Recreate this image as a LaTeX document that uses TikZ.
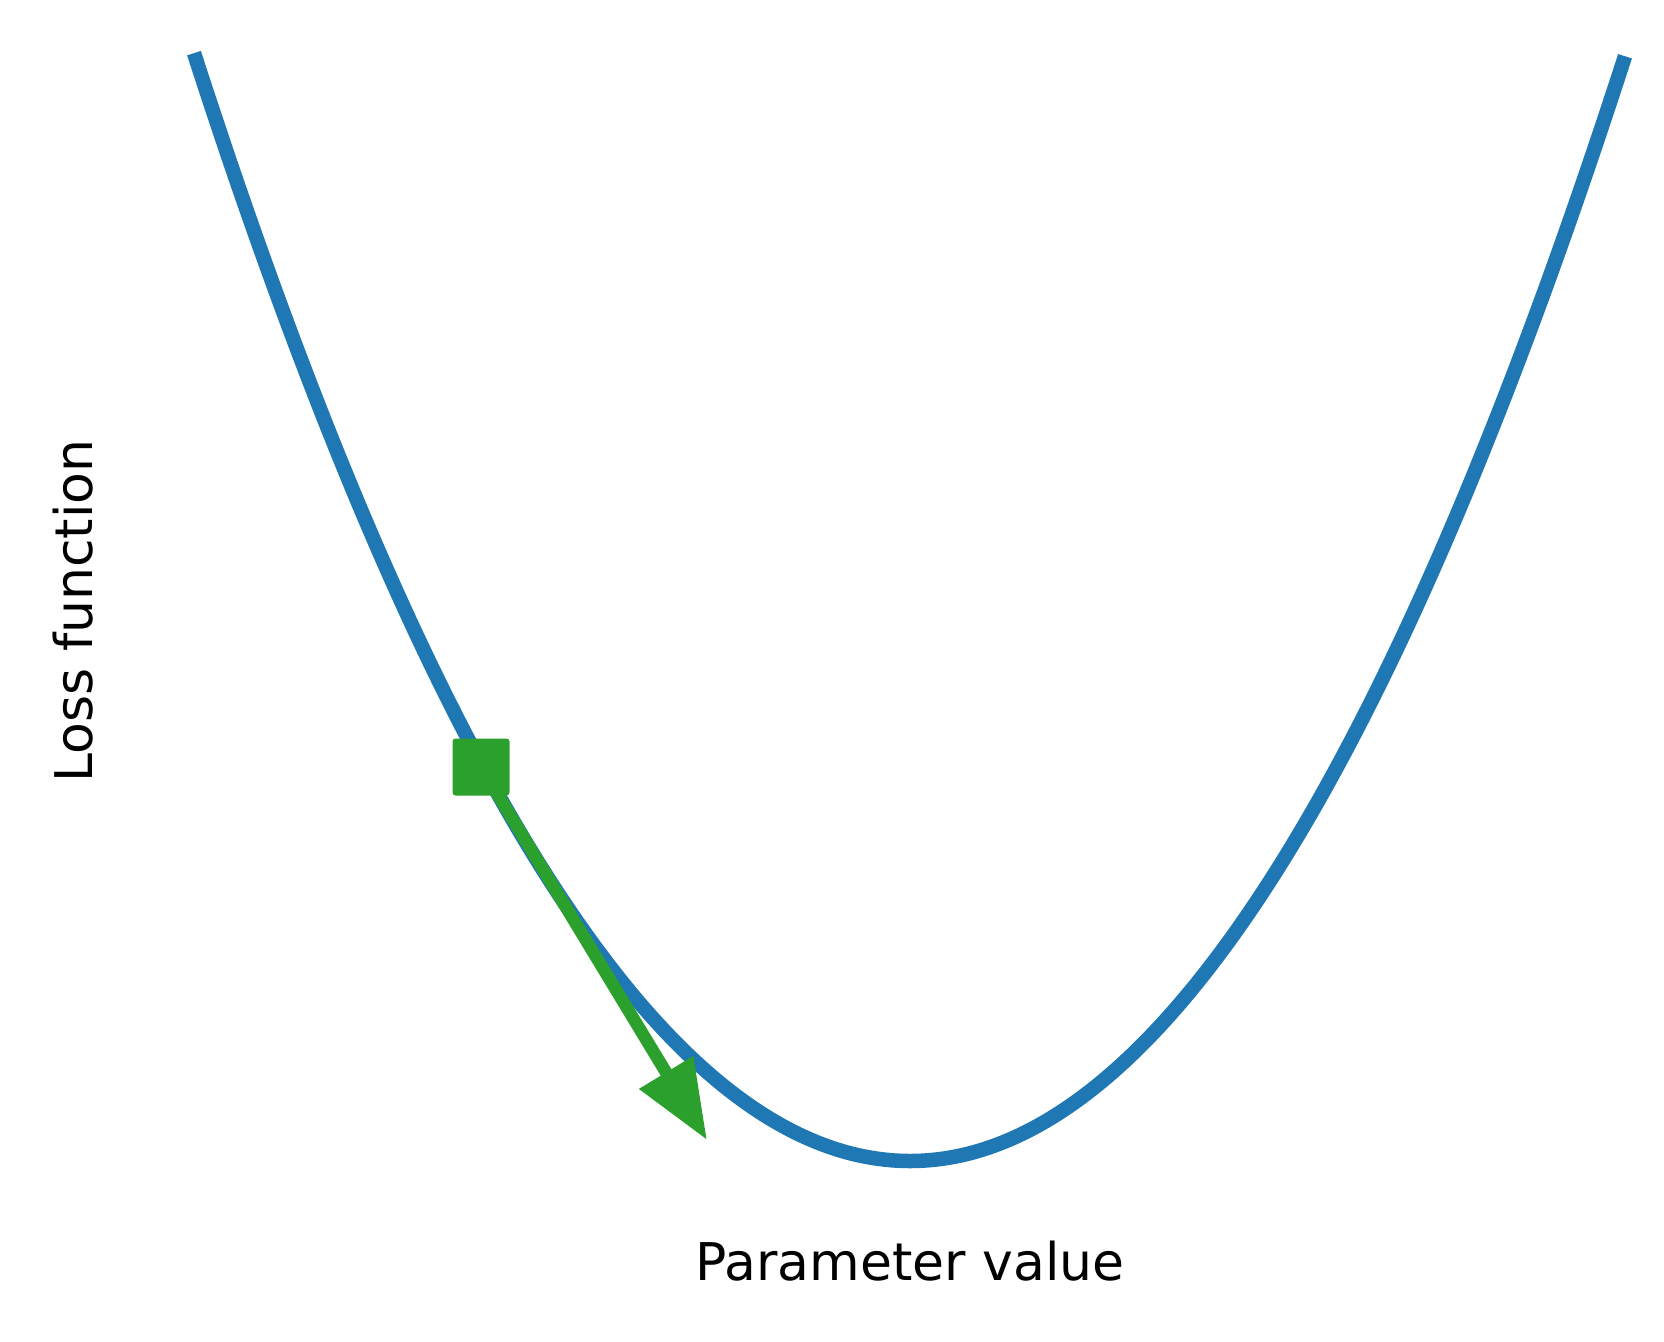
\documentclass[tikz,border=0pt]{standalone}
\usepackage{fontspec}
\setmainfont{DejaVu Sans}
\usetikzlibrary{arrows.meta}
\definecolor{mblue}{HTML}{1F77B4}
\definecolor{mgreen}{HTML}{2CA02C}
\tikzset{
  curve/.style={draw=mblue, line width=7.25pt, line cap=butt, line join=round},
  gradarrow/.style={draw=mgreen, line width=6.25pt, -{Triangle[length=39.5pt, width=30pt]}},
  marker/.style={fill=mgreen, draw=none, minimum size=28.5pt, inner sep=0pt, rounded corners=1.5pt},
  lbl/.style={font=\fontsize{26}{31}\selectfont, inner sep=0pt}
}
\begin{document}
\begin{tikzpicture}[x=0.5pt, y=-0.5pt]
\useasboundingbox (0,0) rectangle (1664,1342);
\draw[curve] plot[domain=194:1625, samples=241, smooth] (\x, {1161 - 21.61*((\x-910)/100)^2});
\coordinate (pc) at (481,767);
\coordinate (tip) at (707,1140);
\draw[gradarrow] (pc) -- (tip);
\node[marker] (p) at (pc) {};
\node[lbl, anchor=base] (xl) at (910,1280) {Parameter value};
\node[lbl, anchor=base, rotate=90] (yl) at (92,611) {Loss function};
\end{tikzpicture}
\end{document}
